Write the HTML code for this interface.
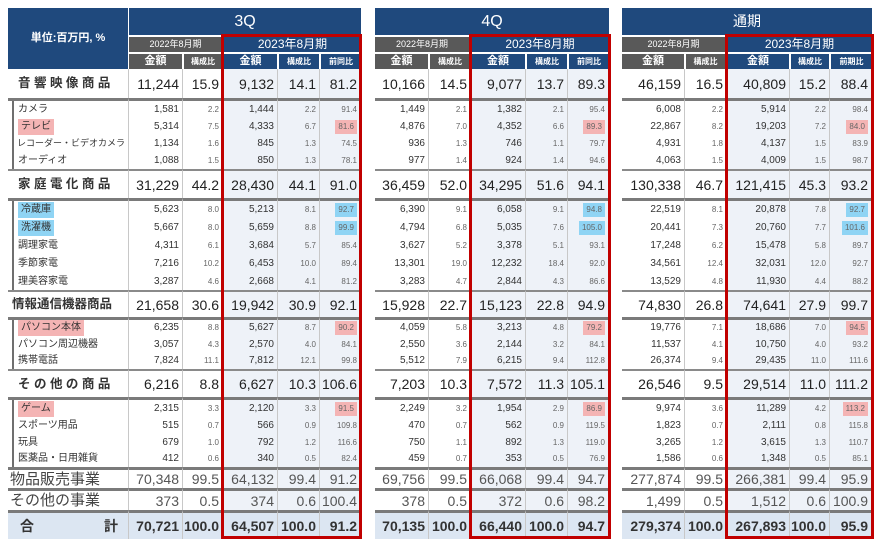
<!DOCTYPE html>
<html><head><meta charset="utf-8"><style>
*{margin:0;padding:0;box-sizing:border-box}
body{width:881px;height:550px;background:#fff;position:relative;overflow:hidden;font-family:"Liberation Sans","Noto Sans CJK JP",sans-serif;color:#222}
.h{position:absolute;color:#fff;text-align:center;white-space:nowrap;overflow:hidden}
.bl{background:#1f497d}.gy{background:#595959}
table{position:absolute;left:8px;top:69px;border-collapse:separate;border-spacing:0;table-layout:fixed;width:864px}
td{border-right:1px solid #c8c8c8;text-align:right;padding:0 3px 0 0;white-space:nowrap;overflow:hidden;vertical-align:middle;line-height:1}
td.g{border-right:none;background:#fff!important;border-top-color:transparent!important}
td.l{text-align:left}
td.b{background:#eef2f8}
tr.m td{font-size:14px}
tr.m td.l{font-size:12.5px;font-weight:bold;padding-left:10px;color:#333}
tr.s td{font-size:10px;color:#333}
tr.s td.r{font-size:8px;color:#666}
tr.s td.l{padding-left:10px;background:linear-gradient(90deg,#fff 4px,#6f6f6f 4px,#6f6f6f 6px,#fff 6px)}
tr.t3 td{border-top:3px solid #7a7a7a}
tr.t2 td{border-top:2px solid #8a8a8a}
tr.k td{font-size:14px;color:#555}
tr.k td.l{font-size:15px;font-weight:normal;padding-left:2px;color:#444}
tr.tot td{background:#dce6f2;font-size:14px;font-weight:bold;color:#333}
tr.tot td.l{padding-left:12px}
.pk{background:#f4b4b4;padding:3px 3px}
.cy{background:#8fd4f4;padding:3px 3px}
td .pk,td .cy{display:inline-block;line-height:1}
.red{position:absolute;border:3px solid #c00000;top:34px;height:505px}
</style></head><body>
<div class="h bl" style="left:8px;top:8px;width:120px;height:61px;line-height:61px;font-size:11px;font-weight:bold">単位:百万円, %</div>

<div class="h bl" style="left:129px;top:8px;width:232px;height:27px;line-height:27px;font-size:16px">3Q</div>
<div class="h gy" style="left:129px;top:37px;width:93px;height:15px;line-height:15px;font-size:9px">2022年8月期</div>
<div class="h bl" style="left:224px;top:37px;width:137px;height:15px;line-height:15px;font-size:12px">2023年8月期</div>
<div class="h gy" style="left:129px;top:54px;width:53px;height:15px;line-height:15px;font-size:11px;font-weight:bold">金額</div>
<div class="h gy" style="left:184px;top:54px;width:38px;height:15px;line-height:15px;font-size:8px;font-weight:bold">構成比</div>
<div class="h bl" style="left:224px;top:54px;width:53px;height:15px;line-height:15px;font-size:11px;font-weight:bold">金額</div>
<div class="h bl" style="left:279px;top:54px;width:40px;height:15px;line-height:15px;font-size:8px;font-weight:bold">構成比</div>
<div class="h bl" style="left:321px;top:54px;width:40px;height:15px;line-height:15px;font-size:8px;font-weight:bold">前同比</div>

<div class="h bl" style="left:375px;top:8px;width:234px;height:27px;line-height:27px;font-size:16px">4Q</div>
<div class="h gy" style="left:375px;top:37px;width:94px;height:15px;line-height:15px;font-size:9px">2022年8月期</div>
<div class="h bl" style="left:471px;top:37px;width:138px;height:15px;line-height:15px;font-size:12px">2023年8月期</div>
<div class="h gy" style="left:375px;top:54px;width:53px;height:15px;line-height:15px;font-size:11px;font-weight:bold">金額</div>
<div class="h gy" style="left:430px;top:54px;width:40px;height:15px;line-height:15px;font-size:8px;font-weight:bold">構成比</div>
<div class="h bl" style="left:471px;top:54px;width:54px;height:15px;line-height:15px;font-size:11px;font-weight:bold">金額</div>
<div class="h bl" style="left:527px;top:54px;width:40px;height:15px;line-height:15px;font-size:8px;font-weight:bold">構成比</div>
<div class="h bl" style="left:569px;top:54px;width:40px;height:15px;line-height:15px;font-size:8px;font-weight:bold">前同比</div>

<div class="h bl" style="left:622px;top:8px;width:250px;height:27px;line-height:27px;font-size:14px">通期</div>
<div class="h gy" style="left:622px;top:37px;width:103px;height:15px;line-height:15px;font-size:9px">2022年8月期</div>
<div class="h bl" style="left:727px;top:37px;width:145px;height:15px;line-height:15px;font-size:12px">2023年8月期</div>
<div class="h gy" style="left:622px;top:54px;width:62px;height:15px;line-height:15px;font-size:11px;font-weight:bold">金額</div>
<div class="h gy" style="left:686px;top:54px;width:39px;height:15px;line-height:15px;font-size:8px;font-weight:bold">構成比</div>
<div class="h bl" style="left:727px;top:54px;width:62px;height:15px;line-height:15px;font-size:11px;font-weight:bold">金額</div>
<div class="h bl" style="left:791px;top:54px;width:38px;height:15px;line-height:15px;font-size:8px;font-weight:bold">構成比</div>
<div class="h bl" style="left:831px;top:54px;width:41px;height:15px;line-height:15px;font-size:8px;font-weight:bold">前期比</div>

<table>
<colgroup><col style="width:121px"><col style="width:54px"><col style="width:40px"><col style="width:55px"><col style="width:42px"><col style="width:41px"><col style="width:14px"><col style="width:54px"><col style="width:42px"><col style="width:55px"><col style="width:42px"><col style="width:41px"><col style="width:13px"><col style="width:63px"><col style="width:42px"><col style="width:63px"><col style="width:40px"><col style="width:42px"></colgroup>
<tr class="m" style="height:29px"><td class="l">音 響 映 像 商 品</td><td>11,244</td><td>15.9</td><td class="b">9,132</td><td class="b">14.1</td><td class="b">81.2</td><td class="g"></td><td>10,166</td><td>14.5</td><td class="b">9,077</td><td class="b">13.7</td><td class="b">89.3</td><td class="g"></td><td>46,159</td><td>16.5</td><td class="b">40,809</td><td class="b">15.2</td><td class="b">88.4</td></tr>
<tr class="s t3" style="height:20px"><td class="l">カメラ</td><td>1,581</td><td class="r">2.2</td><td class="b">1,444</td><td class="b r">2.2</td><td class="b r">91.4</td><td class="g"></td><td>1,449</td><td class="r">2.1</td><td class="b">1,382</td><td class="b r">2.1</td><td class="b r">95.4</td><td class="g"></td><td>6,008</td><td class="r">2.2</td><td class="b">5,914</td><td class="b r">2.2</td><td class="b r">98.4</td></tr>
<tr class="s" style="height:17px"><td class="l"><span class="pk">テレビ</span></td><td>5,314</td><td class="r">7.5</td><td class="b">4,333</td><td class="b r">6.7</td><td class="b r"><span class="pk">81.6</span></td><td class="g"></td><td>4,876</td><td class="r">7.0</td><td class="b">4,352</td><td class="b r">6.6</td><td class="b r"><span class="pk">89.3</span></td><td class="g"></td><td>22,867</td><td class="r">8.2</td><td class="b">19,203</td><td class="b r">7.2</td><td class="b r"><span class="pk">84.0</span></td></tr>
<tr class="s" style="height:17px"><td class="l" style="font-size:9px;padding-left:9px">レコーダー・ビデオカメラ</td><td>1,134</td><td class="r">1.6</td><td class="b">845</td><td class="b r">1.3</td><td class="b r">74.5</td><td class="g"></td><td>936</td><td class="r">1.3</td><td class="b">746</td><td class="b r">1.1</td><td class="b r">79.7</td><td class="g"></td><td>4,931</td><td class="r">1.8</td><td class="b">4,137</td><td class="b r">1.5</td><td class="b r">83.9</td></tr>
<tr class="s" style="height:17px"><td class="l">オーディオ</td><td>1,088</td><td class="r">1.5</td><td class="b">850</td><td class="b r">1.3</td><td class="b r">78.1</td><td class="g"></td><td>977</td><td class="r">1.4</td><td class="b">924</td><td class="b r">1.4</td><td class="b r">94.6</td><td class="g"></td><td>4,063</td><td class="r">1.5</td><td class="b">4,009</td><td class="b r">1.5</td><td class="b r">98.7</td></tr>
<tr class="m t2" style="height:29px"><td class="l">家 庭 電 化 商 品</td><td>31,229</td><td>44.2</td><td class="b">28,430</td><td class="b">44.1</td><td class="b">91.0</td><td class="g"></td><td>36,459</td><td>52.0</td><td class="b">34,295</td><td class="b">51.6</td><td class="b">94.1</td><td class="g"></td><td>130,338</td><td>46.7</td><td class="b">121,415</td><td class="b">45.3</td><td class="b">93.2</td></tr>
<tr class="s t3" style="height:21px"><td class="l"><span class="cy">冷蔵庫</span></td><td>5,623</td><td class="r">8.0</td><td class="b">5,213</td><td class="b r">8.1</td><td class="b r"><span class="cy">92.7</span></td><td class="g"></td><td>6,390</td><td class="r">9.1</td><td class="b">6,058</td><td class="b r">9.1</td><td class="b r"><span class="cy">94.8</span></td><td class="g"></td><td>22,519</td><td class="r">8.1</td><td class="b">20,878</td><td class="b r">7.8</td><td class="b r"><span class="cy">92.7</span></td></tr>
<tr class="s" style="height:18px"><td class="l"><span class="cy">洗濯機</span></td><td>5,667</td><td class="r">8.0</td><td class="b">5,659</td><td class="b r">8.8</td><td class="b r"><span class="cy">99.9</span></td><td class="g"></td><td>4,794</td><td class="r">6.8</td><td class="b">5,035</td><td class="b r">7.6</td><td class="b r"><span class="cy">105.0</span></td><td class="g"></td><td>20,441</td><td class="r">7.3</td><td class="b">20,760</td><td class="b r">7.7</td><td class="b r"><span class="cy">101.6</span></td></tr>
<tr class="s" style="height:18px"><td class="l">調理家電</td><td>4,311</td><td class="r">6.1</td><td class="b">3,684</td><td class="b r">5.7</td><td class="b r">85.4</td><td class="g"></td><td>3,627</td><td class="r">5.2</td><td class="b">3,378</td><td class="b r">5.1</td><td class="b r">93.1</td><td class="g"></td><td>17,248</td><td class="r">6.2</td><td class="b">15,478</td><td class="b r">5.8</td><td class="b r">89.7</td></tr>
<tr class="s" style="height:18px"><td class="l">季節家電</td><td>7,216</td><td class="r">10.2</td><td class="b">6,453</td><td class="b r">10.0</td><td class="b r">89.4</td><td class="g"></td><td>13,301</td><td class="r">19.0</td><td class="b">12,232</td><td class="b r">18.4</td><td class="b r">92.0</td><td class="g"></td><td>34,561</td><td class="r">12.4</td><td class="b">32,031</td><td class="b r">12.0</td><td class="b r">92.7</td></tr>
<tr class="s" style="height:17px"><td class="l">理美容家電</td><td>3,287</td><td class="r">4.6</td><td class="b">2,668</td><td class="b r">4.1</td><td class="b r">81.2</td><td class="g"></td><td>3,283</td><td class="r">4.7</td><td class="b">2,844</td><td class="b r">4.3</td><td class="b r">86.6</td><td class="g"></td><td>13,529</td><td class="r">4.8</td><td class="b">11,930</td><td class="b r">4.4</td><td class="b r">88.2</td></tr>
<tr class="m t2" style="height:27px"><td class="l" style="padding-left:4px">情報通信機器商品</td><td>21,658</td><td>30.6</td><td class="b">19,942</td><td class="b">30.9</td><td class="b">92.1</td><td class="g"></td><td>15,928</td><td>22.7</td><td class="b">15,123</td><td class="b">22.8</td><td class="b">94.9</td><td class="g"></td><td>74,830</td><td>26.8</td><td class="b">74,641</td><td class="b">27.9</td><td class="b">99.7</td></tr>
<tr class="s t3" style="height:19px"><td class="l"><span class="pk">パソコン本体</span></td><td>6,235</td><td class="r">8.8</td><td class="b">5,627</td><td class="b r">8.7</td><td class="b r"><span class="pk">90.2</span></td><td class="g"></td><td>4,059</td><td class="r">5.8</td><td class="b">3,213</td><td class="b r">4.8</td><td class="b r"><span class="pk">79.2</span></td><td class="g"></td><td>19,776</td><td class="r">7.1</td><td class="b">18,686</td><td class="b r">7.0</td><td class="b r"><span class="pk">94.5</span></td></tr>
<tr class="s" style="height:17px"><td class="l">パソコン周辺機器</td><td>3,057</td><td class="r">4.3</td><td class="b">2,570</td><td class="b r">4.0</td><td class="b r">84.1</td><td class="g"></td><td>2,550</td><td class="r">3.6</td><td class="b">2,144</td><td class="b r">3.2</td><td class="b r">84.1</td><td class="g"></td><td>11,537</td><td class="r">4.1</td><td class="b">10,750</td><td class="b r">4.0</td><td class="b r">93.2</td></tr>
<tr class="s" style="height:16px"><td class="l">携帯電話</td><td>7,824</td><td class="r">11.1</td><td class="b">7,812</td><td class="b r">12.1</td><td class="b r">99.8</td><td class="g"></td><td>5,512</td><td class="r">7.9</td><td class="b">6,215</td><td class="b r">9.4</td><td class="b r">112.8</td><td class="g"></td><td>26,374</td><td class="r">9.4</td><td class="b">29,435</td><td class="b r">11.0</td><td class="b r">111.6</td></tr>
<tr class="m t2" style="height:28px"><td class="l">そ の 他 の 商 品</td><td>6,216</td><td>8.8</td><td class="b">6,627</td><td class="b">10.3</td><td class="b">106.6</td><td class="g"></td><td>7,203</td><td>10.3</td><td class="b">7,572</td><td class="b">11.3</td><td class="b">105.1</td><td class="g"></td><td>26,546</td><td>9.5</td><td class="b">29,514</td><td class="b">11.0</td><td class="b">111.2</td></tr>
<tr class="s t3" style="height:20px"><td class="l"><span class="pk">ゲーム</span></td><td>2,315</td><td class="r">3.3</td><td class="b">2,120</td><td class="b r">3.3</td><td class="b r"><span class="pk">91.5</span></td><td class="g"></td><td>2,249</td><td class="r">3.2</td><td class="b">1,954</td><td class="b r">2.9</td><td class="b r"><span class="pk">86.9</span></td><td class="g"></td><td>9,974</td><td class="r">3.6</td><td class="b">11,289</td><td class="b r">4.2</td><td class="b r"><span class="pk">113.2</span></td></tr>
<tr class="s" style="height:17px"><td class="l">スポーツ用品</td><td>515</td><td class="r">0.7</td><td class="b">566</td><td class="b r">0.9</td><td class="b r">109.8</td><td class="g"></td><td>470</td><td class="r">0.7</td><td class="b">562</td><td class="b r">0.9</td><td class="b r">119.5</td><td class="g"></td><td>1,823</td><td class="r">0.7</td><td class="b">2,111</td><td class="b r">0.8</td><td class="b r">115.8</td></tr>
<tr class="s" style="height:17px"><td class="l">玩具</td><td>679</td><td class="r">1.0</td><td class="b">792</td><td class="b r">1.2</td><td class="b r">116.6</td><td class="g"></td><td>750</td><td class="r">1.1</td><td class="b">892</td><td class="b r">1.3</td><td class="b r">119.0</td><td class="g"></td><td>3,265</td><td class="r">1.2</td><td class="b">3,615</td><td class="b r">1.3</td><td class="b r">110.7</td></tr>
<tr class="s" style="height:16px"><td class="l">医薬品・日用雑貨</td><td>412</td><td class="r">0.6</td><td class="b">340</td><td class="b r">0.5</td><td class="b r">82.4</td><td class="g"></td><td>459</td><td class="r">0.7</td><td class="b">353</td><td class="b r">0.5</td><td class="b r">76.9</td><td class="g"></td><td>1,586</td><td class="r">0.6</td><td class="b">1,348</td><td class="b r">0.5</td><td class="b r">85.1</td></tr>
<tr class="k t3" style="height:21px"><td class="l">物品販売事業</td><td>70,348</td><td>99.5</td><td class="b">64,132</td><td class="b">99.4</td><td class="b">91.2</td><td class="g"></td><td>69,756</td><td>99.5</td><td class="b">66,068</td><td class="b">99.4</td><td class="b">94.7</td><td class="g"></td><td>277,874</td><td>99.5</td><td class="b">266,381</td><td class="b">99.4</td><td class="b">95.9</td></tr>
<tr class="k t3" style="height:22px"><td class="l">その他の事業</td><td>373</td><td>0.5</td><td class="b">374</td><td class="b">0.6</td><td class="b">100.4</td><td class="g"></td><td>378</td><td>0.5</td><td class="b">372</td><td class="b">0.6</td><td class="b">98.2</td><td class="g"></td><td>1,499</td><td>0.5</td><td class="b">1,512</td><td class="b">0.6</td><td class="b">100.9</td></tr>
<tr class="tot t3" style="height:29px"><td class="l">合　　　　　計</td><td>70,721</td><td>100.0</td><td>64,507</td><td>100.0</td><td>91.2</td><td class="g"></td><td>70,135</td><td>100.0</td><td>66,440</td><td>100.0</td><td>94.7</td><td class="g"></td><td>279,374</td><td>100.0</td><td>267,893</td><td>100.0</td><td>95.9</td></tr>
</table>
<div class="red" style="left:221px;width:141px"></div>
<div class="red" style="left:469px;width:142px"></div>
<div class="red" style="left:725px;width:149px"></div>
</body></html>
